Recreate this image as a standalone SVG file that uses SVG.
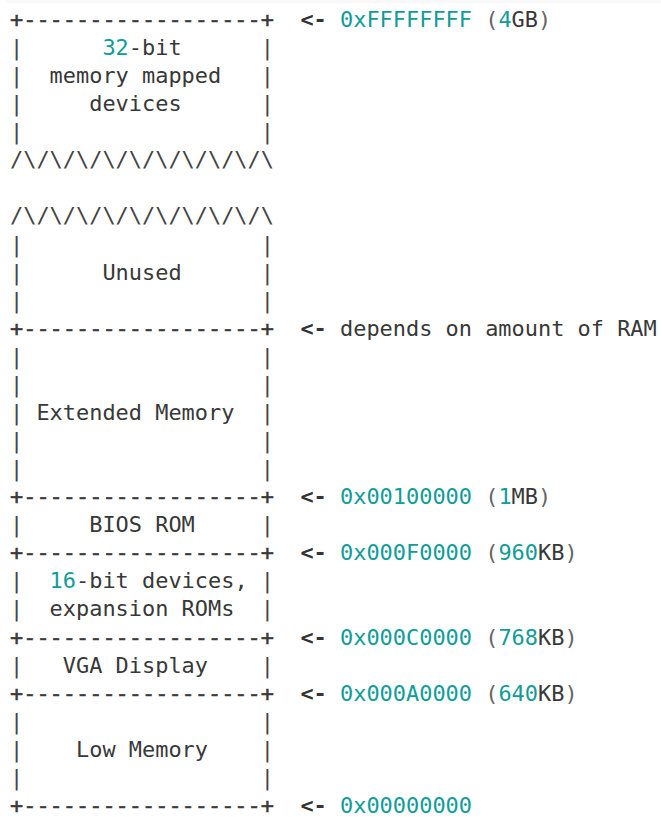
<svg xmlns="http://www.w3.org/2000/svg" width="661" height="817" viewBox="0 0 661 817">
<style>
  text { font-family: "DejaVu Sans Mono", "Liberation Mono", monospace; font-size: 21.93px; white-space: pre; fill: #383838; }
  .b { fill: #444444; }
  .h { fill: #3a3a3a; stroke: #3a3a3a; stroke-width: 0.5px; }
  .n { fill: #119c99; }
  .p { fill: #666666; }
  .ar { font-weight: bold; fill: #333333; }
</style>
<rect x="0" y="0" width="661" height="817" fill="#ffffff"/>
<rect x="6" y="0" width="655" height="3" fill="#f8f8f8"/>
<g id="region-32bit-devices">
  <text class="h" x="10" y="27.0">+------------------+</text>
  <text x="10" y="55.07"><tspan class="b">|</tspan>      <tspan class="n">32</tspan>-bit      <tspan class="b">|</tspan></text>
  <text x="10" y="83.14"><tspan class="b">|</tspan>  memory mapped   <tspan class="b">|</tspan></text>
  <text x="10" y="111.21"><tspan class="b">|</tspan>     devices      <tspan class="b">|</tspan></text>
  <text class="b" x="10" y="139.28">|                  |</text>
  <text class="b" x="10" y="167.35">/\/\/\/\/\/\/\/\/\/\</text>
</g>
<g id="region-unused">
  <text class="b" x="10" y="223.49">/\/\/\/\/\/\/\/\/\/\</text>
  <text class="b" x="10" y="251.56">|                  |</text>
  <text x="10" y="279.63"><tspan class="b">|</tspan>      Unused      <tspan class="b">|</tspan></text>
  <text class="b" x="10" y="307.7">|                  |</text>
  <text class="h" x="10" y="335.77">+------------------+</text>
</g>
<g id="region-extended-memory">
  <text class="b" x="10" y="363.84">|                  |</text>
  <text class="b" x="10" y="391.91">|                  |</text>
  <text x="10" y="419.98"><tspan class="b">|</tspan> Extended Memory  <tspan class="b">|</tspan></text>
  <text class="b" x="10" y="448.05">|                  |</text>
  <text class="b" x="10" y="476.12">|                  |</text>
  <text class="h" x="10" y="504.19">+------------------+</text>
</g>
<g id="region-bios-rom">
  <text x="10" y="532.26"><tspan class="b">|</tspan>     BIOS ROM     <tspan class="b">|</tspan></text>
  <text class="h" x="10" y="560.33">+------------------+</text>
</g>
<g id="region-16bit-devices">
  <text x="10" y="588.4"><tspan class="b">|</tspan>  <tspan class="n">16</tspan>-bit devices, <tspan class="b">|</tspan></text>
  <text x="10" y="616.47"><tspan class="b">|</tspan>  expansion ROMs  <tspan class="b">|</tspan></text>
  <text class="h" x="10" y="644.54">+------------------+</text>
</g>
<g id="region-vga-display">
  <text x="10" y="672.61"><tspan class="b">|</tspan>   VGA Display    <tspan class="b">|</tspan></text>
  <text class="h" x="10" y="700.68">+------------------+</text>
</g>
<g id="region-low-memory">
  <text class="b" x="10" y="728.75">|                  |</text>
  <text x="10" y="756.82"><tspan class="b">|</tspan>    Low Memory    <tspan class="b">|</tspan></text>
  <text class="b" x="10" y="784.89">|                  |</text>
  <text class="h" x="10" y="812.96">+------------------+</text>
</g>
<g id="connectors">
  <text x="300.4" y="27.0"><tspan class="ar">&lt;-</tspan> <tspan class="n">0xFFFFFFFF</tspan> <tspan class="p">(</tspan><tspan class="n">4</tspan>GB<tspan class="p">)</tspan></text>
  <text x="300.4" y="335.77"><tspan class="ar">&lt;-</tspan> depends on amount of RAM</text>
  <text x="300.4" y="504.19"><tspan class="ar">&lt;-</tspan> <tspan class="n">0x00100000</tspan> <tspan class="p">(</tspan><tspan class="n">1</tspan>MB<tspan class="p">)</tspan></text>
  <text x="300.4" y="560.33"><tspan class="ar">&lt;-</tspan> <tspan class="n">0x000F0000</tspan> <tspan class="p">(</tspan><tspan class="n">960</tspan>KB<tspan class="p">)</tspan></text>
  <text x="300.4" y="644.54"><tspan class="ar">&lt;-</tspan> <tspan class="n">0x000C0000</tspan> <tspan class="p">(</tspan><tspan class="n">768</tspan>KB<tspan class="p">)</tspan></text>
  <text x="300.4" y="700.68"><tspan class="ar">&lt;-</tspan> <tspan class="n">0x000A0000</tspan> <tspan class="p">(</tspan><tspan class="n">640</tspan>KB<tspan class="p">)</tspan></text>
  <text x="300.4" y="812.96"><tspan class="ar">&lt;-</tspan> <tspan class="n">0x00000000</tspan></text>
</g>
</svg>
